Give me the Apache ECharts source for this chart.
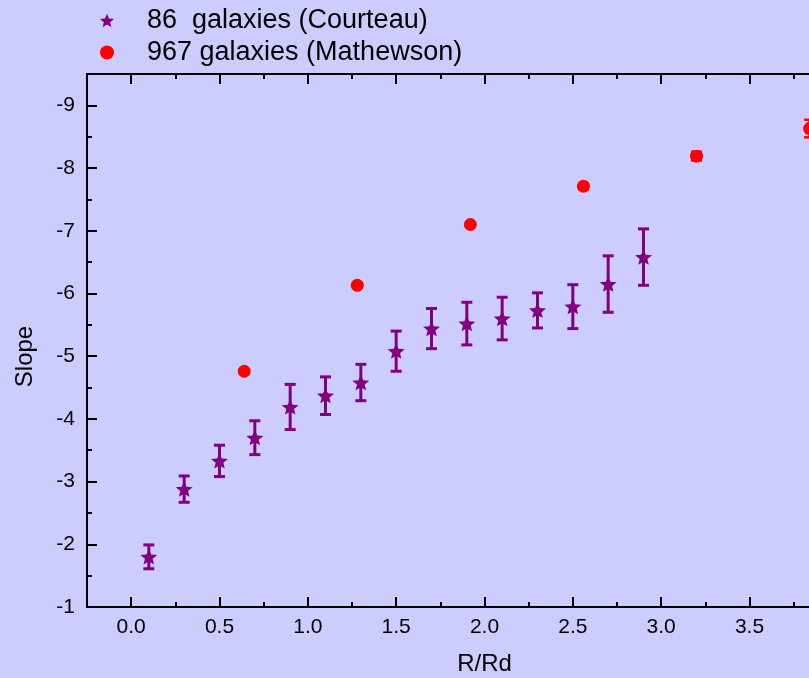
<!DOCTYPE html>
<html>
<head>
<meta charset="utf-8">
<script src="https://cdn.jsdelivr.net/npm/echarts@6/dist/echarts.min.js"></script>
<style>
html,body{margin:0;padding:0;background:#CCCCFF;}
#chart{width:809px;height:678px;}
</style>
</head>
<body>
<div id="chart"></div>
<script>
// ---- data ----
const courteauName = '86  galaxies (Courteau)';
const courteauX   = [0.1, 0.3, 0.5, 0.7, 0.9, 1.1, 1.3, 1.5, 1.7, 1.9, 2.1, 2.3, 2.5, 2.7, 2.9];
const courteauY   = [-1.80, -2.88, -3.33, -3.70, -4.19, -4.37, -4.58, -5.08, -5.44, -5.52, -5.60, -5.73, -5.79, -6.15, -6.58];
const courteauErr = [0.19, 0.21, 0.25, 0.27, 0.36, 0.30, 0.29, 0.32, 0.32, 0.34, 0.34, 0.28, 0.35, 0.45, 0.45];

const mathewsonName = '967 galaxies (Mathewson)';
const mathewsonX   = [0.64, 1.28, 1.92, 2.56, 3.20, 3.84];
const mathewsonY   = [-4.76, -6.13, -7.10, -7.71, -8.19, -8.63];
const mathewsonErr = [0.03, 0.03, 0.03, 0.05, 0.07, 0.14];

const xLabelsMin = -0.25, xLabelsMax = 4.25;
const yMin = -9.5, yMax = -1;

// ---- build ----
const FONT = "'Liberation Sans', Arial, sans-serif";
const PURPLE = '#800080';
const RED = '#FF0000';
const STAR = 'path://M0,-100 L27,-37 L95,-31 L43,14 L59,81 L0,46 L-59,81 L-43,14 L-95,-31 L-27,-37 Z';

function pts(xs, ys) { return xs.map((x, i) => [x, ys[i]]); }
function errs(xs, ys, es) { return xs.map((x, i) => [x, ys[i] - es[i], ys[i] + es[i]]); }

function errRenderer(color, capHalf, lw) {
  return function (params, api) {
    const x = api.value(0);
    const a = api.coord([x, api.value(1)]);
    const b = api.coord([x, api.value(2)]);
    const st = { stroke: color, lineWidth: lw };
    return {
      type: 'group',
      children: [
        { type: 'line', shape: { x1: a[0], y1: a[1], x2: b[0], y2: b[1] }, style: st },
        { type: 'line', shape: { x1: a[0] - capHalf, y1: a[1], x2: a[0] + capHalf, y2: a[1] }, style: st },
        { type: 'line', shape: { x1: b[0] - capHalf, y1: b[1], x2: b[0] + capHalf, y2: b[1] }, style: st }
      ]
    };
  };
}

const fmtX = v => (Math.abs(v * 2 - Math.round(v * 2)) < 1e-9 ? v.toFixed(1) : '');
const fmtY = v => (Math.abs(v - Math.round(v)) < 1e-9 ? String(Math.round(v)) : '');

const axisLine = { show: true, onZero: false, lineStyle: { color: '#000', width: 2 } };

function xAxisDef(pos, major) {
  const d = {
    type: 'value', position: pos, min: xLabelsMin, max: xLabelsMax,
    axisLine: axisLine,
    axisTick: { show: true, inside: true, length: major ? 10 : 5, lineStyle: { color: '#000', width: 2 } },
    splitLine: { show: false },
    axisLabel: { show: false }
  };
  if (major) {
    d.minInterval = 0.5; d.maxInterval = 0.5;
  } else {
    d.interval = 0.25;
  }
  if (major && pos === 'bottom') {
    d.axisLabel = { show: true, formatter: fmtX, margin: 10, color: '#000', fontSize: 21, fontFamily: FONT, showMinLabel: false };
    d.name = 'R/Rd';
    d.nameLocation = 'middle';
    d.nameGap = 45;
    d.nameTextStyle = { color: '#000', fontSize: 24, fontFamily: FONT };
  }
  return d;
}

function yAxisDef(major) {
  const d = {
    type: 'value', position: 'left', inverse: true, min: yMin, max: yMax,
    axisLine: axisLine,
    axisTick: { show: true, inside: true, length: major ? 10 : 5, lineStyle: { color: '#000', width: 2 } },
    splitLine: { show: false },
    axisLabel: { show: false }
  };
  if (major) {
    d.minInterval = 1; d.maxInterval = 1;
    d.axisLabel = { show: true, formatter: fmtY, margin: 12, color: '#000', fontSize: 21, fontFamily: FONT };
    d.name = 'Slope';
    d.nameLocation = 'middle';
    d.nameGap = 50;
    d.nameTextStyle = { color: '#000', fontSize: 24, fontFamily: FONT, padding: [0, 32, 0, 0] };
  } else {
    d.interval = 0.5;
  }
  return d;
}

const chart = echarts.init(document.getElementById('chart'), null, { renderer: 'canvas' });
chart.setOption({
  backgroundColor: '#CCCCFF',
  animation: false,
  textStyle: { fontFamily: FONT },
  grid: { left: 87, top: 74, width: 795, bottom: 71, containLabel: false, outerBoundsMode: 'none' },
  legend: {
    orient: 'vertical', left: 95, top: 2,
    itemWidth: 14, itemHeight: 14, itemGap: 5,
    data: [courteauName, mathewsonName],
    textStyle: { color: '#000', fontSize: 27, fontFamily: FONT, lineHeight: 26, padding: [0, 0, 0, 28] }
  },
  xAxis: [xAxisDef('bottom', true), xAxisDef('bottom', false), xAxisDef('top', true), xAxisDef('top', false)],
  yAxis: [yAxisDef(true), yAxisDef(false)],
  series: [
    {
      type: 'custom', name: 'courteauErr', xAxisIndex: 0, yAxisIndex: 0,
      renderItem: errRenderer(PURPLE, 5.5, 3),
      encode: { x: 0, y: [1, 2] },
      data: errs(courteauX, courteauY, courteauErr), z: 2
    },
    {
      type: 'scatter', name: courteauName, xAxisIndex: 0, yAxisIndex: 0,
      symbol: STAR, symbolSize: [17, 16], symbolKeepAspect: true,
      itemStyle: { color: PURPLE, opacity: 1 },
      data: pts(courteauX, courteauY), z: 3
    },
    {
      type: 'custom', name: 'mathewsonErr', xAxisIndex: 0, yAxisIndex: 0,
      renderItem: errRenderer(RED, 5.5, 2.5),
      encode: { x: 0, y: [1, 2] },
      data: errs(mathewsonX, mathewsonY, mathewsonErr), z: 2
    },
    {
      type: 'scatter', name: mathewsonName, xAxisIndex: 0, yAxisIndex: 0,
      symbol: 'circle', symbolSize: 13,
      itemStyle: { color: RED, opacity: 1 },
      data: pts(mathewsonX, mathewsonY), z: 3
    }
  ]
});
</script>
</body>
</html>
